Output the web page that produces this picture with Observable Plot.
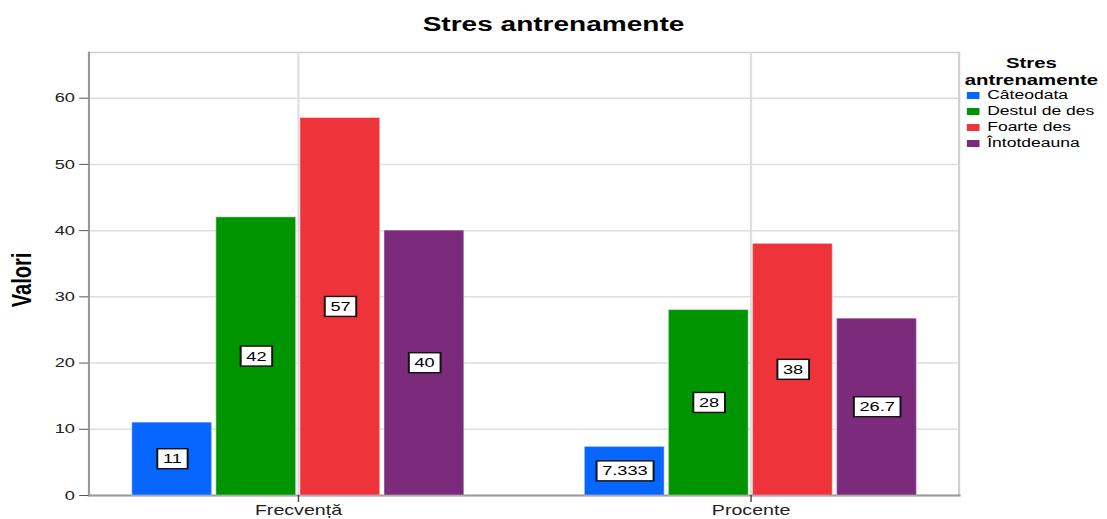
<!DOCTYPE html>
<html><head><meta charset="utf-8">
<script src="https://cdn.jsdelivr.net/npm/d3@7"></script>
<script src="https://cdn.jsdelivr.net/npm/@observablehq/plot@0.6"></script>
<style>
html,body{margin:0;padding:0;background:#fff;overflow:hidden;}
#stage{position:absolute;left:0;top:0;width:790px;height:519px;transform-origin:0 0;font-family:"Liberation Sans",Arial,sans-serif;color:#000;}
#title{height:44px;box-sizing:border-box;padding-top:14px;text-align:center;font-size:20px;font-weight:bold;line-height:20px;}
#row{display:flex;height:475px;}
#chart{position:relative;width:686px;height:475px;flex:none;}
#chart svg{position:absolute;left:0;top:0;}
#legend{width:104px;padding-top:11.4px;box-sizing:border-box;flex:none;}
#legend .lt{font-size:14.5px;font-weight:bold;line-height:16.2px;text-align:center;width:100px;}
#legend .items{margin-top:-0.8px;}
#legend .it{height:16px;display:flex;align-items:center;font-size:12.5px;white-space:nowrap;}
#legend .sw{width:9px;height:7px;margin-left:4px;margin-right:5.5px;flex:none;}
</style></head>
<body>
<div id="stage"><div id="title"></div><div id="row"><div id="chart"></div><div id="legend"></div></div></div>
<script>
const titleText = "Stres antrenamente";
const legendTitle = ["Stres", "antrenamente"];
const yLabel = "Valori";
const categories = ["Frecvență", "Procente"];
const series = ["Câteodata", "Destul de des", "Foarte des", "Întotdeauna"];
const frecventa = [11, 42, 57, 40];
const procente = [7.333, 28, 38, 26.7];
const yTicks = [0, 10, 20, 30, 40, 50, 60];
const colors = ["#0766ff", "#009400", "#ef333a", "#7b2a7c"];

const valuesByCategory = [frecventa, procente];
const data = categories.flatMap((c, i) => series.map((s, j) => ({category: c, series: s, value: valuesByCategory[i][j]})));

const stage = document.getElementById("stage");
stage.style.transform = `scaleX(${1107 / 790})`;
document.getElementById("title").textContent = titleText;

const W = 686, H = 475, ML = 63, MR = 2, MT = 8, MB = 24;
const yMax = 66.9;
const font = '"Liberation Sans", Arial, sans-serif';
const fxPad = {paddingInner: 0.248, paddingOuter: 0.083};

const bg = Plot.plot({
  width: W, height: H, marginLeft: ML, marginRight: MR, marginTop: MT, marginBottom: MB,
  style: {fontFamily: font, background: "transparent", overflow: "visible"},
  x: {type: "band", domain: categories, ...fxPad},
  y: {domain: [0, yMax]},
  marks: [
    Plot.frame({stroke: "#cfcfcf", strokeWidth: 1.5}),
    Plot.gridY(yTicks.filter(d => d > 0), {stroke: "#dedede", strokeOpacity: 1, strokeWidth: 1.5}),
    Plot.gridX(categories, {stroke: "#dedede", strokeOpacity: 1, strokeWidth: 1.5}),
    Plot.frame({anchor: "left", stroke: "#9a9a9a", strokeWidth: 1.5}),
    Plot.frame({anchor: "bottom", stroke: "#9a9a9a", strokeWidth: 2}),
    Plot.axisY(yTicks, {tickSize: 6.5, tickPadding: 3.5, fontSize: 13, stroke: "#555", fill: "#222", label: null}),
    Plot.axisX(categories, {tickSize: 7, tickPadding: 3, fontSize: 14, stroke: "#444", fill: "#222", label: null}),
    Plot.text([yLabel], {text: d => d, frameAnchor: "left", textAnchor: "middle", rotate: -90, dx: -47.5, dy: 6, fontSize: 20, fontWeight: "bold", fill: "#000"})
  ]
});

const fg = Plot.plot({
  width: W, height: H, marginLeft: ML, marginRight: MR, marginTop: MT, marginBottom: MB,
  style: {fontFamily: font, background: "transparent", overflow: "visible"},
  fx: {domain: categories, ...fxPad, axis: null, label: null},
  x: {domain: series, padding: 0.05, axis: null},
  y: {domain: [0, yMax], axis: null},
  color: {domain: series, range: colors},
  marks: [
    Plot.barY(data, {fx: "category", x: "series", y: "value", fill: "series", stroke: "#ffffff", strokeOpacity: 0.35, strokeWidth: 1}),
    Plot.text(data, {fx: "category", x: "series", y: d => d.value / 2, text: d => String(d.value), fontSize: 13, fill: "#000"})
  ]
});

const chart = document.getElementById("chart");
chart.appendChild(bg);
chart.appendChild(fg);

fg.querySelectorAll("text").forEach(t => {
  const b = t.getBBox();
  const r = document.createElementNS("http://www.w3.org/2000/svg", "rect");
  r.setAttribute("x", b.x - 4);
  r.setAttribute("y", b.y - 3);
  r.setAttribute("width", b.width + 8);
  r.setAttribute("height", b.height + 6);
  r.setAttribute("fill", "#fff");
  r.setAttribute("stroke", "#111");
  r.setAttribute("stroke-width", 1.4);
  const tr = t.getAttribute("transform");
  if (tr) r.setAttribute("transform", tr);
  t.parentNode.insertBefore(r, t);
});

const legend = document.getElementById("legend");
legendTitle.forEach(s => {
  const d = document.createElement("div");
  d.className = "lt"; d.textContent = s; legend.appendChild(d);
});
const items = document.createElement("div");
items.className = "items";
series.forEach((s, i) => {
  const it = document.createElement("div"); it.className = "it";
  const sw = document.createElement("div"); sw.className = "sw"; sw.style.background = colors[i];
  const lb = document.createElement("span"); lb.textContent = s;
  it.appendChild(sw); it.appendChild(lb); items.appendChild(it);
});
legend.appendChild(items);
</script>
</body></html>
